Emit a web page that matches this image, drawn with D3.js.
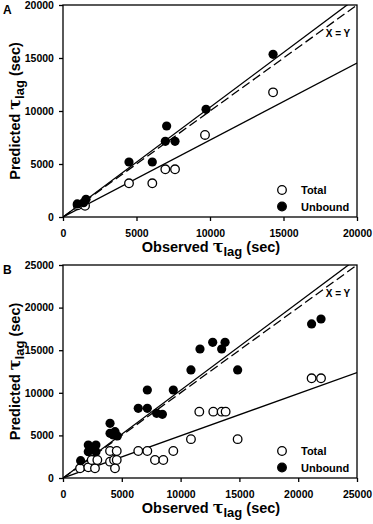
<!DOCTYPE html>
<html>
<head>
<meta charset="utf-8">
<script src="https://cdn.jsdelivr.net/npm/d3@7"></script>
<style>
  body { margin: 0; background: #fff; }
  svg { display: block; font-family: "Liberation Sans", Arial, sans-serif; }
</style>
</head>
<body>
<svg id="chart" width="373" height="524"></svg>
<script>
// panel A
const totalA = [[1000, 1100], [1500, 1050], [4490, 3180], [6075, 3180], [6960, 4500], [7620, 4500], [9660, 7740], [14290, 11760]];
const unboundA = [[970, 1230], [1565, 1670], [1400, 1350], [4490, 5190], [6075, 5190], [6960, 7140], [7620, 7140], [7050, 8585], [9730, 10160], [14290, 15350]];
const ticksA = [0, 5000, 10000, 15000, 20000];
const slopesA = [1.035, 0.726];

// panel B
const totalB = [[1450, 1130], [2150, 1250], [2720, 1130], [2440, 2110], [2920, 2110], [4000, 3170], [4570, 3170],
  [4000, 1920], [4340, 2110], [4570, 2110], [4420, 1130], [6400, 3170], [7170, 3170], [7820, 2110], [8530, 2110],
  [9380, 3170], [10880, 4560], [14850, 4560], [11590, 7790], [12780, 7790], [13490, 7790], [13830, 7790],
  [21140, 11700], [21940, 11700]];
const unboundB = [[1500, 2030], [2150, 3870], [2800, 3870], [2150, 3090], [2800, 3090], [2580, 3480], [4000, 6420],
  [4000, 5240], [4420, 5440], [4280, 5050], [4620, 4930], [7170, 10330], [6400, 8180], [7170, 8180], [7960, 7590],
  [8450, 7470], [9380, 10330], [10880, 12680], [11650, 15140], [12730, 15930], [13780, 15930], [13490, 15140],
  [14850, 12680], [21140, 18080], [21940, 18660]];
const ticksB = [0, 5000, 10000, 15000, 20000, 25000];
const slopesB = [1.03, 0.495];

const svg = d3.select("#chart");

function drawPanel(opt) {
    const left = 63, right = 357;
    const max = opt.ticks[opt.ticks.length - 1];
    const x = d3.scaleLinear().domain([0, max]).range([left, right]);
    const y = d3.scaleLinear().domain([0, max]).range([opt.bottom, opt.top]);
    const g = svg.append("g");

    // frame
    g.append("rect")
        .attr("x", left).attr("y", opt.top)
        .attr("width", right - left).attr("height", opt.bottom - opt.top)
        .attr("fill", "none").attr("stroke", "#000").attr("stroke-width", 1.3);

    const xAxis = g.append("g")
        .attr("transform", `translate(0,${opt.bottom})`)
        .call(d3.axisBottom(x).tickValues(opt.ticks).tickSize(4).tickSizeOuter(0).tickFormat(d3.format("d")));
    const yAxis = g.append("g")
        .attr("transform", `translate(${left},0)`)
        .call(d3.axisLeft(y).tickValues(opt.ticks).tickSize(4).tickSizeOuter(0).tickFormat(d3.format("d")));
    [xAxis, yAxis].forEach(a => {
        a.select(".domain").remove();
        a.selectAll("line").attr("stroke", "#000").attr("stroke-width", 1.3);
        a.selectAll("text")
            .style("font-size", "10.5px")
            .style("font-weight", "bold")
            .style("font-family", "'Liberation Sans', Arial, sans-serif")
            .attr("fill", "#000");
    });
    xAxis.selectAll("text").attr("dy", "1.2em");
    yAxis.selectAll("text").attr("dx", "-0.2em");

    const clip = "clip" + opt.name;
    g.append("clipPath").attr("id", clip)
        .append("rect").attr("x", left).attr("y", opt.top)
        .attr("width", right - left).attr("height", opt.bottom - opt.top);

    const lines = g.append("g").attr("clip-path", `url(#${clip})`);
    // x = y dashed
    lines.append("line")
        .attr("x1", x(0)).attr("y1", y(0)).attr("x2", x(max)).attr("y2", y(max))
        .attr("stroke", "#000").attr("stroke-width", 1.3).attr("stroke-dasharray", "9,4");
    opt.slopes.forEach(s => {
        lines.append("line")
            .attr("x1", x(0)).attr("y1", y(0)).attr("x2", x(max)).attr("y2", y(max * s))
            .attr("stroke", "#000").attr("stroke-width", 1.3);
    });

    g.append("text")
        .attr("x", 338).attr("y", opt.top + 32)
        .attr("text-anchor", "middle")
        .style("font-size", "10px").style("font-weight", "bold")
        .text("X = Y");

    g.selectAll(".tot").data(opt.total).enter().append("circle")
        .attr("cx", d => x(d[0])).attr("cy", d => y(d[1])).attr("r", 4.3)
        .attr("fill", "#fff").attr("stroke", "#000").attr("stroke-width", 1.3);
    g.selectAll(".unb").data(opt.unbound).enter().append("circle")
        .attr("cx", d => x(d[0])).attr("cy", d => y(d[1])).attr("r", 4.6)
        .attr("fill", "#000");

    // legend
    const leg = g.append("g");
    [["Total", "#fff"], ["Unbound", "#000"]].forEach((d, i) => {
        const ly = opt.bottom - 27 + i * 16.5;
        leg.append("circle").attr("cx", 282).attr("cy", ly).attr("r", 4.3)
            .attr("fill", d[1]).attr("stroke", "#000").attr("stroke-width", 1.3);
        leg.append("text").attr("x", 301).attr("y", ly + 4)
            .style("font-size", "11px").style("font-weight", "bold").text(d[0]);
    });

    // panel letter
    g.append("text").attr("x", 3).attr("y", opt.top + 9)
        .style("font-size", "12px").style("font-weight", "bold").text(opt.name);

    // axis titles
    const xt = g.append("text")
        .attr("x", 211).attr("y", opt.bottom + 35)
        .attr("text-anchor", "middle")
        .style("font-size", "14.5px").style("font-weight", "bold");
    xt.append("tspan").text("Observed ");
    xt.append("tspan").style("font-size", "16px").style("font-family", "'DejaVu Serif', serif").text("τ");
    xt.append("tspan").attr("dy", 4).style("font-size", "13px").text("lag");
    xt.append("tspan").attr("dy", -4).text(" (sec)");

    const cy = (opt.top + opt.bottom) / 2;
    const yt = g.append("text")
        .attr("transform", `translate(20,${cy}) rotate(-90)`)
        .attr("text-anchor", "middle")
        .style("font-size", "14.5px").style("font-weight", "bold");
    yt.append("tspan").text("Predicted ");
    yt.append("tspan").style("font-size", "16px").style("font-family", "'DejaVu Serif', serif").text("τ");
    yt.append("tspan").attr("dy", 4).style("font-size", "13px").text("lag");
    yt.append("tspan").attr("dy", -4).text(" (sec)");
}

drawPanel({ name: "A", top: 5, bottom: 217, ticks: ticksA, total: totalA, unbound: unboundA, slopes: slopesA });
drawPanel({ name: "B", top: 265, bottom: 478, ticks: ticksB, total: totalB, unbound: unboundB, slopes: slopesB });
</script>
</body>
</html>
